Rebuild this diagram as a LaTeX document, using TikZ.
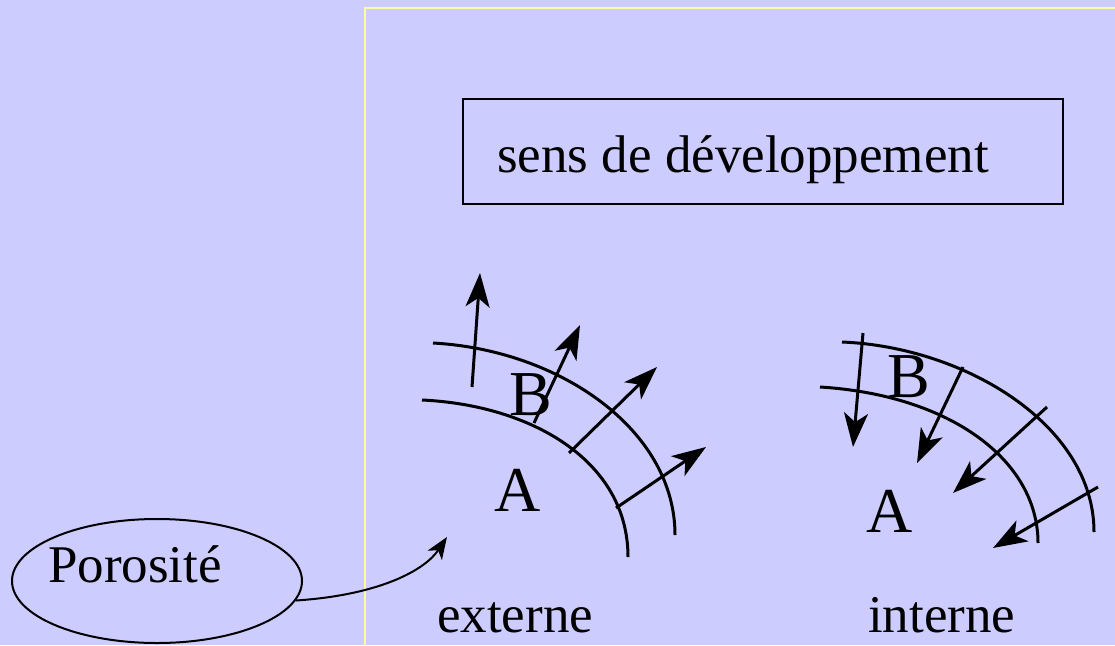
\documentclass[tikz,border=0pt]{standalone}
\usepackage{fontspec}
\setmainfont{Liberation Serif}
\usetikzlibrary{arrows.meta, shapes.geometric}
\definecolor{lavender}{HTML}{CCCCFF}
\definecolor{paleyellow}{HTML}{FFFF99}
\newcommand{\bigtxt}{\fontsize{53}{60}\selectfont}
\newcommand{\hugetxt}{\fontsize{64}{70}\selectfont}

\begin{document}
\begin{tikzpicture}[x=1pt, y=-1pt, >={Stealth[length=34pt, width=24pt, inset=9pt]},
    layer/.style={line width=3pt},
    flow/.style={line width=3pt, ->},
    lbl/.style={inner sep=0pt, anchor=base west, font=\bigtxt},
    zone/.style={inner sep=0pt, anchor=base west, font=\hugetxt}]
        \fill[lavender] (0,0) rectangle (1115,645);
        \useasboundingbox (0,0) rectangle (1115,645);
        \draw[paleyellow, line width=2pt] (365,645) -- (365,8) -- (1115,8);
        % box
        \draw[line width=2.5pt] (463,99) rectangle (1063,204);
        \node (sens) [lbl] at (497,172) {sens de développement};
        % externe
        \draw[layer] (433,343) .. controls (560,350) and (675,430) .. (675,535);
        \draw[layer] (422,400) .. controls (530,405) and (628,460) .. (628,557);
        \draw[flow] (472,387) -- (480,273);
        \draw[flow] (534,423) -- (580,325);
        \draw[flow] (569,453) -- (657,367);
        \draw[flow] (616,508) -- (706,447);
        \node (bext) [zone] at (509,415) {B};
        \node (aext) [zone] at (494,511) {A};
        \node (ext) [lbl] at (437,632) {externe};
        % interne
        \draw[layer] (842,342) .. controls (965,347) and (1094,425) .. (1094,532);
        \draw[layer] (820,387) .. controls (950,395) and (1038,460) .. (1038,543);
        \draw[flow] (863,333) -- (853,447);
        \draw[flow] (963,367) -- (917,463);
        \draw[flow] (1047,407) -- (953,493);
        \draw[flow] (1098,487) -- (993,548);
        \node (bint) [zone] at (887,397) {B};
        \node (aint) [zone] at (866,532) {A};
        \node (int) [lbl] at (868,632) {interne};
        % porosite
        \node (poro) [ellipse, draw, line width=2pt, minimum width=290pt, minimum height=124pt] at (157,581) {};
        \node (porotxt) [lbl] at (48,582) {Porosité};
        \coordinate (porotip) at (447,537);
        \draw[line width=2pt, -{Stealth[length=22pt, width=17pt, inset=6pt]}] (poro.-8) .. controls (380,595) and (425,570) .. (porotip);
\end{tikzpicture}
\end{document}
